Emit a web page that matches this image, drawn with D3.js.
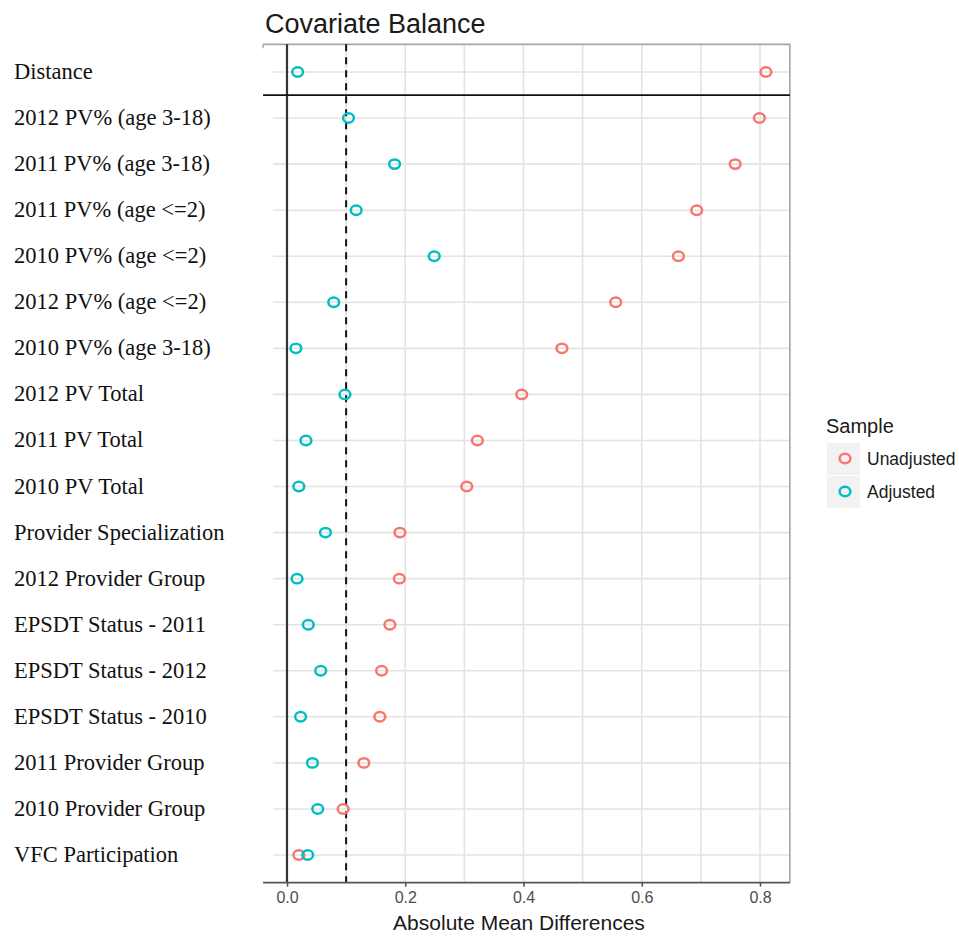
<!DOCTYPE html>
<html>
<head>
<meta charset="utf-8">
<script src="https://cdn.jsdelivr.net/npm/d3@7"></script>
<style>
  body { margin: 0; background: #fff; }
  svg { display: block; font-family: 'Liberation Sans', Arial, sans-serif; }
</style>
</head>
<body>
<svg id="canvas"></svg>
<script>
// Covariate balance dot plot

let covariates = [
  'Distance',
  '2012 PV% (age 3-18)',
  '2011 PV% (age 3-18)',
  '2011 PV% (age <=2)',
  '2010 PV% (age <=2)',
  '2012 PV% (age <=2)',
  '2010 PV% (age 3-18)',
  '2012 PV Total',
  '2011 PV Total',
  '2010 PV Total',
  'Provider Specialization',
  '2012 Provider Group',
  'EPSDT Status - 2011',
  'EPSDT Status - 2012',
  'EPSDT Status - 2010',
  '2011 Provider Group',
  '2010 Provider Group',
  'VFC Participation'
]
let unadjusted = [0.810, 0.799, 0.758, 0.693, 0.662, 0.556, 0.465, 0.397, 0.322, 0.304,
                  0.191, 0.190, 0.174, 0.160, 0.157, 0.130, 0.095, 0.020]
let adjusted   = [0.018, 0.104, 0.182, 0.117, 0.249, 0.079, 0.015, 0.098, 0.032, 0.020,
                  0.065, 0.017, 0.036, 0.057, 0.023, 0.043, 0.052, 0.035]
let samples = ['Unadjusted', 'Adjusted']
let xTicks = [0, 0.2, 0.4, 0.6, 0.8]
let xMinor = [0.1, 0.3, 0.5, 0.7]
let threshold = 0.1

//Dimensions
let width = 959
let height = 936

let colors = ['#F8766D', '#00BFC4']

let svg = d3.select('#canvas')
            .attr('width', width)
            .attr('height', height)

let xScale = d3.scaleLinear()
               .domain([0, 0.8])
               .range([287, 760])

let yScale = d3.scalePoint()
               .domain(covariates)
               .range([72, 855])

let step = yScale.step()
let panelLeft = xScale(-0.0405)
let panelRight = xScale(0.8505)
let panelTop = yScale(covariates[0]) - 0.6 * step
let panelBottom = yScale(covariates[covariates.length - 1]) + 0.6 * step

let drawGrid = () => {
  let grid = svg.append('g').attr('class', 'grid')

  grid.selectAll('.vgrid')
      .data(xTicks.concat(xMinor))
      .enter()
      .append('line')
      .attr('x1', d => xScale(d))
      .attr('x2', d => xScale(d))
      .attr('y1', panelTop)
      .attr('y2', panelBottom)
      .style('stroke', '#e3e3e3')
      .style('stroke-width', 1.6)

  grid.selectAll('.hgrid')
      .data(covariates)
      .enter()
      .append('line')
      .attr('x1', panelLeft + 10)
      .attr('x2', panelRight)
      .attr('y1', d => yScale(d))
      .attr('y2', d => yScale(d))
      .style('stroke', '#e3e3e3')
      .style('stroke-width', 1.6)

  // panel border (left side hidden behind the labels in the original)
  svg.append('path')
     .attr('d', `M${panelLeft},${panelTop}H${panelRight}V${panelBottom}`)
     .style('fill', 'none')
     .style('stroke', '#a6a6a6')
     .style('stroke-width', 1.6)
  svg.append('line')
     .attr('x1', panelLeft).attr('x2', panelLeft)
     .attr('y1', panelTop).attr('y2', panelTop + 4)
     .style('stroke', '#a6a6a6')
     .style('stroke-width', 1.4)
}

let drawRefLines = () => {
  // zero line
  svg.append('line')
     .attr('x1', xScale(0)).attr('x2', xScale(0))
     .attr('y1', panelTop).attr('y2', panelBottom)
     .style('stroke', '#333')
     .style('stroke-width', 2.2)

  // threshold
  svg.append('line')
     .attr('x1', xScale(threshold)).attr('x2', xScale(threshold))
     .attr('y1', panelTop).attr('y2', panelBottom)
     .style('stroke', '#111')
     .style('stroke-width', 2)
     .style('stroke-dasharray', '7,6')

  // separator under Distance
  let ySep = (yScale(covariates[0]) + yScale(covariates[1])) / 2
  svg.append('line')
     .attr('x1', panelLeft).attr('x2', panelRight)
     .attr('y1', ySep).attr('y2', ySep)
     .style('stroke', '#111')
     .style('stroke-width', 1.8)
}

let drawPoints = () => {
  let series = [unadjusted, adjusted]
  series.forEach((values, s) => {
    svg.append('g')
       .selectAll('ellipse')
       .data(values)
       .enter()
       .append('ellipse')
       .attr('cx', d => xScale(d))
       .attr('cy', (d, i) => yScale(covariates[i]))
       .attr('rx', 5.4)
       .attr('ry', 4.7)
       .style('fill', 'none')
       .style('stroke', colors[s])
       .style('stroke-width', 2.5)
  })
}

let drawAxes = () => {
  let xAxis = d3.axisBottom(xScale)
                .tickValues(xTicks)
                .tickFormat(d3.format('.1f'))
                .tickSize(4)
                .tickPadding(5)

  let gx = svg.append('g')
              .attr('transform', `translate(0,${panelBottom})`)
              .call(xAxis)
  gx.select('.domain').remove()
  gx.selectAll('line').style('stroke', '#555').style('stroke-width', 1.6)
  gx.selectAll('text')
    .style('font-size', '16px')
    .style('fill', '#4d4d4d')
    .style('font-family', "'Liberation Sans', Arial, sans-serif")

  svg.append('line')
     .attr('x1', panelLeft).attr('x2', panelRight)
     .attr('y1', panelBottom).attr('y2', panelBottom)
     .style('stroke', '#555')
     .style('stroke-width', 1.8)

  svg.append('text')
     .attr('x', 519)
     .attr('y', 930)
     .attr('text-anchor', 'middle')
     .style('font-size', '21px')
     .style('fill', '#1a1a1a')
     .text('Absolute Mean Differences')

  // covariate labels
  svg.append('g')
     .selectAll('text')
     .data(covariates)
     .enter()
     .append('text')
     .attr('x', 14)
     .attr('y', d => yScale(d) + 7)
     .style('font-family', "'Liberation Serif', 'Times New Roman', serif")
     .style('font-size', '22.5px')
     .style('fill', '#111')
     .text(d => d)
}

let descriptions = () => {
  svg.append('text')
     .attr('x', 265)
     .attr('y', 33)
     .style('font-size', '27px')
     .style('fill', '#1a1a1a')
     .text('Covariate Balance')
}

let createLegend = () => {
  let legend = svg.append('g').attr('id', 'legend')

  legend.append('text')
        .attr('x', 826)
        .attr('y', 433)
        .style('font-size', '20px')
        .style('fill', '#1a1a1a')
        .text('Sample')

  let keys = legend.selectAll('.key')
                   .data(samples)
                   .enter()
                   .append('g')
                   .attr('class', 'key')
                   .attr('transform', (d, i) => `translate(827,${443 + i * 33})`)

  keys.append('rect')
      .attr('width', 33)
      .attr('height', 32)
      .style('fill', '#f2f2f2')

  keys.append('ellipse')
      .attr('cx', 18)
      .attr('cy', 15.5)
      .attr('rx', 5.4)
      .attr('ry', 4.7)
      .style('fill', 'none')
      .style('stroke', (d, i) => colors[i])
      .style('stroke-width', 2.5)

  keys.append('text')
      .attr('x', 40)
      .attr('y', 22)
      .style('font-size', '17.5px')
      .style('fill', '#1a1a1a')
      .text(d => d)
}

drawGrid()
drawRefLines()
drawPoints()
drawAxes()
descriptions()
createLegend()
</script>
</body>
</html>
